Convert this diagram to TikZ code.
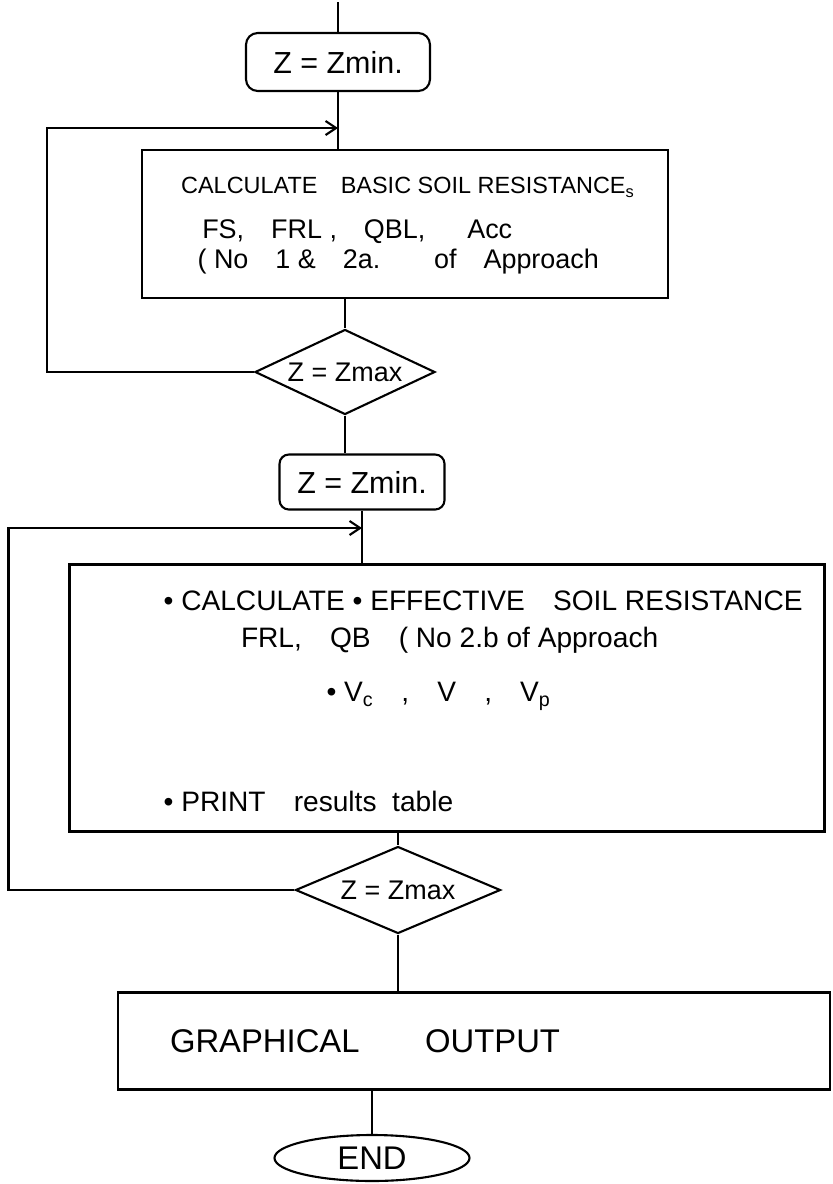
\documentclass[tikz,border=0pt]{standalone}
\usepackage{fontspec}
\setmainfont{Liberation Sans}
\usetikzlibrary{arrows.meta, positioning, shapes.geometric}
\newcommand{\px}{0.3mm}

\begin{document}
\begin{tikzpicture}[x=\px, y=-\px,
  box/.style={draw, line width=1.8pt, inner sep=0pt, font=\fontsize{21}{25}\selectfont},
  decision/.style={draw, diamond, aspect=2, line width=1.8pt, inner sep=0pt,
                   font=\fontsize{23}{27}\selectfont},
  terminal/.style={draw, ellipse, line width=1.8pt, inner sep=0pt,
                   font=\fontsize{28}{32}\selectfont},
  line/.style={line width=1.8pt},
  arr/.style={line width=1.8pt, -{Straight Barb[length=9pt, width=12pt]}}
]
  \useasboundingbox (0,0) rectangle (833,1184);

  \coordinate (start) at (338,2);
  \node[box, rounded corners=10pt, minimum width=184*\px, minimum height=58*\px,
        font=\fontsize{26}{30}\selectfont] (zmin1) at (338,62) {Z = Zmin.};
  \node[box, minimum width=526*\px, minimum height=148*\px] (calcA) at (405,224) {};
  \node[anchor=north west, align=left, inner sep=0pt, font=\fontsize{20}{24}\selectfont]
    (calcAtext) at ([shift={(40,28)}]calcA.north west)
    {CALCULATE\quad BASIC SOIL RESISTANCE\textsubscript{s}\\[14pt]
     {\fontsize{23}{27}\selectfont\hspace{18pt}FS,\quad FRL\ ,\quad QBL,\quad\ \ Acc}\\[2pt]
     {\fontsize{23}{27}\selectfont\hspace{14pt}(\ No\quad 1\ \&\quad 2a.\qquad of\quad Approach}};
  \node[decision, minimum width=180*\px, minimum height=85*\px] (zmax1) at (345,372) {Z = Zmax};
  \node[box, rounded corners=8pt, minimum width=165*\px, minimum height=55*\px,
        font=\fontsize{26}{30}\selectfont] (zmin2) at (362,482) {Z = Zmin.};
  \node[box, minimum width=755*\px, minimum height=267*\px] (calcB) at (447,698) {};
  \node[anchor=north west, align=left, inner sep=0pt, font=\fontsize{24}{28}\selectfont]
    (calcBtext) at ([shift={(95,27)}]calcB.north west)
    {\textbullet\ CALCULATE \textbullet\ EFFECTIVE\quad SOIL RESISTANCE\\[4pt]
     \hspace{66pt}FRL,\quad QB\quad (\ No 2.b of Approach\\[18pt]
     \hspace{139pt}\textbullet\ V\textsubscript{c}\quad,\quad V\quad,\quad V\textsubscript{p}\\[66pt]
     \textbullet\ PRINT\quad results\ \ table};
  \node[decision, minimum width=205*\px, minimum height=87*\px] (zmax2) at (398,890) {Z = Zmax};
  \node[box, minimum width=712*\px, minimum height=97*\px, text width=608*\px, align=left,
        font=\fontsize{28}{32}\selectfont] (graph) at (474,1041) {GRAPHICAL\qquad OUTPUT};
  \node[terminal, minimum width=195*\px, minimum height=46*\px] (finish) at (372,1158) {END};

  % main flow
  \draw[line] (start) -- (zmin1.north);
  \draw[line] (zmin1.south) -- (zmin1.south |- calcA.north);
  \draw[line] (calcA.south -| zmax1.north) -- (zmax1.north);
  \draw[line] (zmax1.south) -- (zmax1.south |- zmin2.north);
  \draw[line] (zmin2.south) -- (zmin2.south |- calcB.north);
  \draw[line] (calcB.south -| zmax2.north) -- (zmax2.north);
  \draw[line] (zmax2.south) -- (zmax2.south |- graph.north);
  \draw[line] (graph.south -| finish.north) -- (finish.north);

  % loops back
  \coordinate (merge1) at (338,128);
  \coordinate (merge2) at (362,528);
  \draw[arr] (zmax1.west) -- ++(-207,0) |- (merge1);
  \draw[arr] (zmax2.west) -- ++(-286,0) |- (merge2);
\end{tikzpicture}
\end{document}
